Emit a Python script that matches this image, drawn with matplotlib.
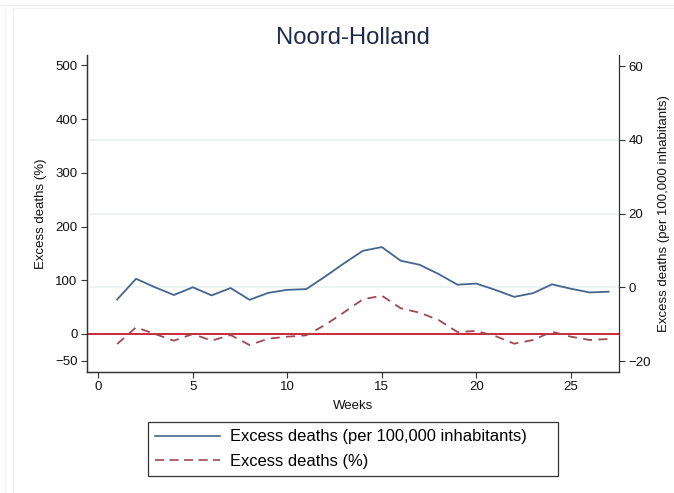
import matplotlib
matplotlib.use("Agg")
import matplotlib.pyplot as plt
from matplotlib.lines import Line2D

plt.rcParams['font.family'] = ['Liberation Sans', 'DejaVu Sans']

weeks = list(range(1, 28))
per100k = [-3.3, 2.3, 0.0, -2.1, 0.0, -2.2, -0.2, -3.4, -1.5, -0.7, -0.5, 2.9, 6.5, 9.9,
           10.9, 7.2, 6.1, 3.6, 0.7, 1.0, -0.7, -2.6, -1.6, 0.8, -0.4, -1.4, -1.2]
pct = [-18.6, 12.4, 0.0, -12.4, 0.0, -12.4, -1.9, -20.5, -8.7, -5.0, -2.5, 16.8, 40.4, 64.6,
       71.3, 47.9, 39.7, 26.1, 3.7, 5.6, -3.7, -18.0, -11.2, 4.3, -5.0, -11.2, -9.3]
left_ticks = [-50, 0, 100, 200, 300, 400, 500]
right_ticks = [-20, 0, 20, 40, 60]
grid_vals = [0, 20, 40]
x_ticks = [0, 5, 10, 15, 20, 25]

blue = '#45658f'
maroon = '#9e4a4f'
red = '#c8172f'
axis_col = '#333333'

fig = plt.figure(figsize=(6.74, 4.93), dpi=100)

# faint outer page border
fig.add_artist(Line2D([0, 1], [1-4.5/493, 1-4.5/493], color='#f0f0f0', lw=0.8))
fig.add_artist(Line2D([13/674, 1], [1-7.5/493, 1-7.5/493], color='#f0f0f0', lw=0.8))
fig.add_artist(Line2D([13/674, 13/674], [0, 1-7.5/493], color='#f0f0f0', lw=0.8))
fig.add_artist(Line2D([4.5/674, 4.5/674], [0, 1-4.5/493], color='#f4f4f4', lw=0.8))

L, R, B, T = 87.3/674, 618.7/674, 1-371.7/493, 1-55/493
ax = fig.add_axes([L, B, R-L, T-B])
ax2 = ax.twinx()

ax.set_xlim(-0.58, 27.53)
ax.set_ylim(-70.2, 519.5)
ax2.set_ylim(-22.9, 63.0)

for g in grid_vals:
    ax2.axhline(g, color='#eaf0f0', lw=1.2, zorder=0)

ax.axhline(0, color=red, lw=1.3, zorder=2)
ax.plot(weeks, pct, color=maroon, lw=1.3, linestyle=(0, (5, 3.5)), zorder=3)
ax2.plot(weeks, per100k, color=blue, lw=1.3, zorder=3)

ax.set_xticks(x_ticks)
ax.set_yticks(left_ticks)
ax2.set_yticks(right_ticks)

for a in (ax, ax2):
    a.spines['top'].set_visible(False)
    for s in ('left', 'right', 'bottom'):
        a.spines[s].set_color(axis_col)
        a.spines[s].set_linewidth(0.9)
    a.tick_params(axis='both', length=4.5, width=0.8, color=axis_col,
                  labelsize=9.5, pad=2.5, labelcolor='#111111')
ax.spines['right'].set_visible(False)

ax.set_ylabel('Excess deaths (%)', fontsize=9.5, color='#111111', labelpad=6)
ax2.set_ylabel('Excess deaths (per 100,000 inhabitants)', fontsize=9.5,
               color='#111111', rotation=90, labelpad=5)
ax.set_xlabel('Weeks', fontsize=9.5, color='#111111', labelpad=5)

fig.text((L+R)/2, 1-38/493, 'Noord-Holland', ha='center', va='center',
         fontsize=17.2, color='#1c2a4e')

handles = [Line2D([], [], color=blue, lw=1.2),
           Line2D([], [], color=maroon, lw=1.2, linestyle=(0, (5.5, 3.2)))]
leg = fig.legend(handles, ['Excess deaths (per 100,000 inhabitants)', 'Excess deaths (%)'],
                 loc='center', bbox_to_anchor=(148/674, 1-479/493, 410/674, 60/493),
                 mode='expand',
                 fontsize=11.9, frameon=True, fancybox=False, framealpha=1,
                 edgecolor='#333333', handlelength=3.9, handletextpad=0.6,
                 labelspacing=0.55, borderpad=0.45, borderaxespad=0)
leg.get_frame().set_linewidth(0.9)

fig.savefig('out.png', dpi=100)
